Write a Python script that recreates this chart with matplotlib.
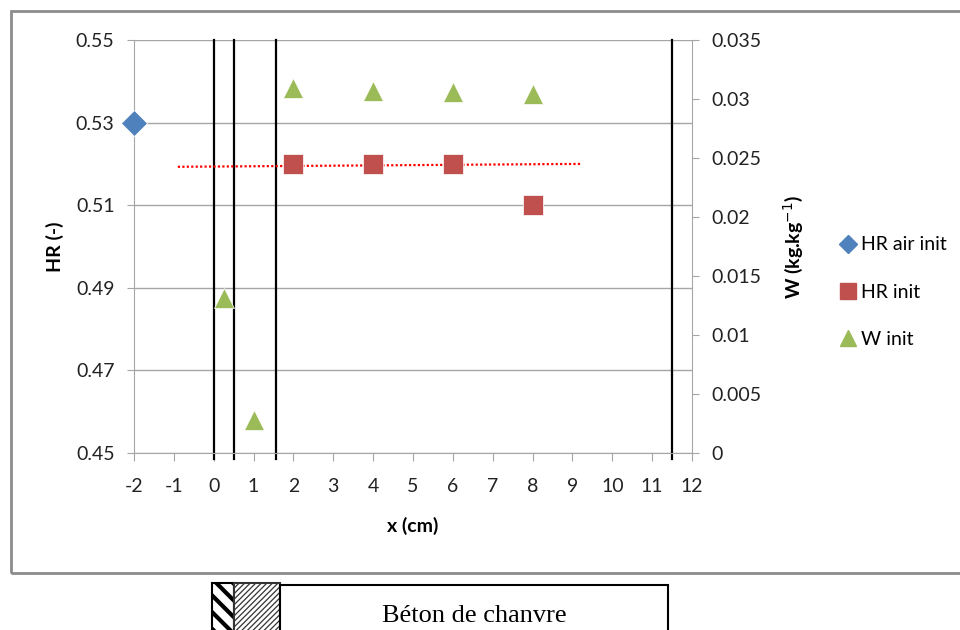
import matplotlib
matplotlib.use('Agg')
import matplotlib.pyplot as plt
from matplotlib.patches import Rectangle
from matplotlib.lines import Line2D

plt.rcParams['font.family'] = ['Lato', 'DejaVu Sans']
plt.rcParams['axes.unicode_minus'] = False

# data
hr_air_x = [-2]
hr_air_y = [0.53]
hr_x = [2, 4, 6, 8]
hr_y = [0.52, 0.52, 0.52, 0.51]
w_x = [0.25, 1, 2, 4, 6, 8]
w_y = [0.0131, 0.0028, 0.0309, 0.0307, 0.0306, 0.0304]
trend_x = [-0.9, 9.2]
trend_y = [0.5193, 0.5200]
walls = [0, 0.5, 1.57, 11.5]

blue = '#4F81BD'
red = '#C0504D'
green = '#9BBB59'
grey = '#A6A6A6'

fig = plt.figure(figsize=(9.6, 6.3), dpi=100)
ax = fig.add_axes([134/960, 1-453/630, (692-134)/960, (453-40)/630])
ax2 = ax.twinx()

ax.set_xlim(-2, 12)
ax.set_ylim(0.45, 0.55)
ax2.set_ylim(0, 0.035)

ax.set_xticks(range(-2, 13))
ax.set_yticks([0.45, 0.47, 0.49, 0.51, 0.53, 0.55])
ax.set_yticklabels(['0.45', '0.47', '0.49', '0.51', '0.53', '0.55'])
ax2.set_yticks([0, 0.005, 0.01, 0.015, 0.02, 0.025, 0.03, 0.035])
ax2.set_yticklabels(['0', '0.005', '0.01', '0.015', '0.02', '0.025', '0.03', '0.035'])

ax.grid(axis='y', color=grey, lw=1)
for a in (ax, ax2):
    for s in a.spines.values():
        s.set_visible(False)
ax.spines['left'].set_visible(True)
ax.spines['left'].set_color(grey)
ax.spines['bottom'].set_visible(True)
ax.spines['bottom'].set_color(grey)
ax2.spines['right'].set_visible(True)
ax2.spines['right'].set_color(grey)

ax.tick_params(axis='x', direction='out', length=6, color=grey, labelsize=14, pad=12, labelcolor='#222222')
ax.tick_params(axis='y', direction='out', length=5, color=grey, labelsize=14, pad=9, labelcolor='#222222')
ax2.tick_params(axis='y', direction='out', length=5, color=grey, labelsize=14, pad=9, labelcolor='#222222')

for xv in walls:
    ax.axvline(xv, ymin=-0.015, ymax=1, color='black', lw=1.6, clip_on=False, zorder=2)

ax.plot(trend_x, trend_y, color='red', ls=(0, (1, 1)), lw=1.6, zorder=3)
ax.plot(hr_air_x, hr_air_y, 'D', color=blue, ms=13, mec='white', mew=0.5, zorder=4, clip_on=False)
ax.plot(hr_x, hr_y, 's', color=red, ms=14, mec='white', mew=0.5, zorder=4)
ax2.plot(w_x, w_y, '^', color=green, ms=15, mec='white', mew=0.5, zorder=4)

ax.set_xlabel('x (cm)', fontsize=14, fontweight='bold')
ax.set_ylabel('HR (-)', fontsize=14, fontweight='bold')
ax2.set_ylabel('W (kg.kg$^{-1}$)', fontsize=14, fontweight='bold')
ax.xaxis.set_label_coords(0.5, -0.155)
ax.yaxis.set_label_coords(-0.125, 0.5)
ax2.yaxis.set_label_coords(1.16, 0.5)

handles = [
    Line2D([], [], ls='none', marker='D', color=blue, ms=9),
    Line2D([], [], ls='none', marker='s', color=red, ms=12),
    Line2D([], [], ls='none', marker='^', color=green, ms=12),
]
fig.legend(handles, ['HR air init', 'HR init', 'W init'], loc='center left',
           bbox_to_anchor=(823/960, 1-292/630), frameon=False, fontsize=14,
           handlelength=0.8, handletextpad=0.25, labelspacing=1.55)

# outer chart frame
fig.add_artist(Rectangle((11/960, 1-573/630), 1.0, (573-11)/630, transform=fig.transFigure,
                         fill=False, edgecolor='#8C8C8C', lw=2))

# wall sketch below the chart
coarse = Rectangle((212/960, -0.05), (234-212)/960, 0.05+(630-583)/630,
                   transform=fig.transFigure, facecolor='white', edgecolor='black',
                   lw=1.5, hatch='\\\\')
fine = Rectangle((234/960, -0.05), (280-234)/960, 0.05+(630-583)/630,
                 transform=fig.transFigure, facecolor='white', edgecolor='#333333',
                 lw=1.5, hatch='//////')
if hasattr(coarse, 'set_hatch_linewidth'):
    coarse.set_hatch_linewidth(3)
    fine.set_hatch_linewidth(0.9)
fig.add_artist(coarse)
fig.add_artist(fine)
fig.add_artist(Rectangle((280/960, -0.05), (668-280)/960, 0.05+(630-585)/630,
                         transform=fig.transFigure, facecolor='white', edgecolor='black', lw=1.5))
fig.text(474/960, 1-616/630, 'Béton de chanvre', family='Liberation Serif', fontsize=19,
         ha='center', va='center')

fig.savefig('out.png', dpi=100)
